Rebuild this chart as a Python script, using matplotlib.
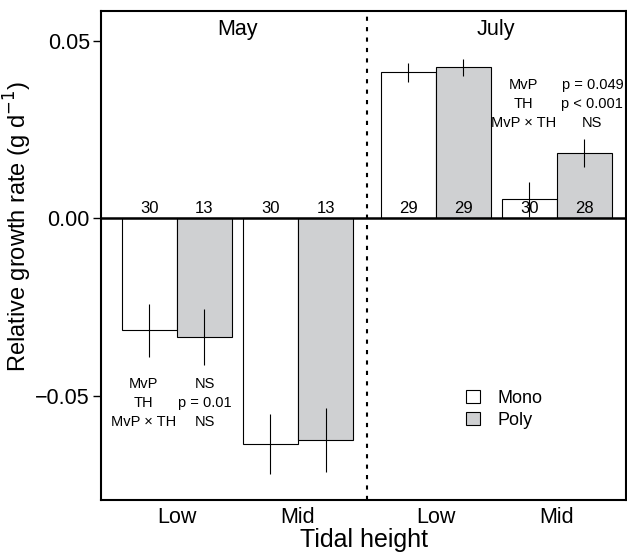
import matplotlib.pyplot as plt
import numpy as np

plt.rcParams['font.family'] = ['Liberation Sans', 'DejaVu Sans']

# data
months = ['May', 'July']
heights = ['Low', 'Mid', 'Low', 'Mid']
mono = [-0.0316, -0.0636, 0.0412, 0.0054]
poly = [-0.0333, -0.0624, 0.0427, 0.0184]
mono_se = [0.0074, 0.0084, 0.0026, 0.0050]
poly_se = [0.0079, 0.0090, 0.0024, 0.0040]
mono_n = [30, 30, 29, 30]
poly_n = [13, 13, 29, 28]
stats_may = ['NS', 'p = 0.01', 'NS']
stats_july = ['p = 0.049', 'p < 0.001', 'NS']

fig = plt.figure(figsize=(6.27, 5.53), dpi=100)
ax = fig.add_axes([101/627, 53/553, 525/627, 489/553])

# group positions (in bar widths)
mono_x = np.array([0, 2.2, 4.7, 6.9])
poly_x = mono_x + 1

ax.bar(mono_x, mono, width=1, color='white', edgecolor='black', linewidth=0.8, label='Mono', zorder=2)
ax.bar(poly_x, poly, width=1, color='#cfd0d2', edgecolor='black', linewidth=0.8, label='Poly', zorder=2)
ax.errorbar(mono_x, mono, yerr=mono_se, fmt='none', ecolor='black', elinewidth=0.8, capsize=0, zorder=3)
ax.errorbar(poly_x, poly, yerr=poly_se, fmt='none', ecolor='black', elinewidth=0.8, capsize=0, zorder=3)

ax.axhline(0, color='black', linewidth=1.8, zorder=4)
ax.axvline(3.95, color='black', linestyle=(0, (2, 3)), linewidth=1.5)

# sample sizes
for x, n in zip(list(mono_x) + list(poly_x), mono_n + poly_n):
    ax.text(x, 0.0007, str(n), ha='center', va='bottom', fontsize=12)

# stats text
lab = 'MvP\nTH\nMvP × TH'
kw = dict(ha='center', va='top', fontsize=10.5, linespacing=1.45)
ax.text(mono_x[0] - 0.1, -0.0447, lab, **kw)
ax.text(poly_x[0], -0.0447, '\n'.join(stats_may), **kw)
ax.text(mono_x[3] - 0.1, 0.0395, lab, **kw)
ax.text(poly_x[3] + 0.15, 0.0395, '\n'.join(stats_july), **kw)

# month labels
ax.text((mono_x[0] + poly_x[1]) / 2, 0.0563, months[0], ha='center', va='top', fontsize=15.5)
ax.text((mono_x[2] + poly_x[3]) / 2, 0.0563, months[1], ha='center', va='top', fontsize=15.5)

ax.set_xlim(-0.88, 8.66)
ax.set_ylim(-0.0794, 0.0585)
ax.set_yticks([-0.05, 0.0, 0.05])
ax.set_yticklabels(['\u22120.05', '0.00', '0.05'])
ax.set_xticks((mono_x + poly_x) / 2)
ax.set_xticklabels(heights)
ax.tick_params(axis='x', length=0, labelsize=15.5, pad=5)
ax.tick_params(axis='y', length=6, labelsize=15.5, width=1, pad=2)
for s in ax.spines.values():
    s.set_linewidth(1.5)

ax.set_xlabel('Tidal height', fontsize=18, labelpad=0)
ax.set_ylabel('Relative growth rate (g d$^{-1}$)', fontsize=17)
ax.yaxis.set_label_coords(-0.128, 0.56)

ax.legend(loc='lower left', bbox_to_anchor=(0.665, 0.112), frameon=False, fontsize=13,
          handlelength=0.75, handleheight=0.75, handletextpad=1.0, labelspacing=0.3)

fig.savefig('out.png', dpi=100)
